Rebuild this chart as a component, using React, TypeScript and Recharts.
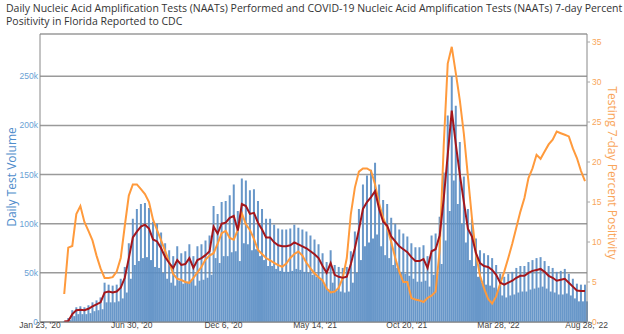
import React from "react";
import { ComposedChart, Bar, Line, XAxis, YAxis, CartesianGrid } from "recharts";

// Week index of the first value in each weekly series (week 0 = Jan 23, '20)
const FIRST_WEEK = 6;

// Daily test volume (thousands): typical weekday level and weekend level per week
const testsWeekday = [
  1, 4, 12, 15, 16, 15, 17, 20, 22, 25, 40, 38, 37, 38, 44, 56, 80, 105, 115, 120,
  121, 116, 102, 100, 91, 80, 73, 67, 77, 70, 72, 79, 67, 77, 79, 83, 88, 118, 110, 122,
  123, 129, 140, 113, 146, 144, 134, 135, 123, 115, 105, 105, 99, 95, 94, 94, 95, 99, 96, 94,
  92, 88, 84, 79, 70, 61, 73, 58, 56, 55, 56, 72, 92, 115, 140, 149, 155, 162, 140, 124,
  120, 106, 100, 94, 90, 87, 80, 76, 76, 78, 67, 88, 90, 107, 152, 210, 250, 220, 183, 148,
  115, 105, 85, 73, 70, 68, 65, 58, 49, 46, 49, 51, 55, 57, 57, 61, 63, 65, 66, 62,
  57, 55, 51, 52, 54, 49, 44, 39, 38, 38,
];
const testsWeekend = [
  0, 2, 6, 8, 8, 8, 9, 11, 12, 13, 20, 20, 20, 21, 24, 30, 44, 58, 62, 65,
  66, 63, 56, 55, 50, 44, 40, 37, 42, 39, 40, 43, 37, 42, 43, 45, 48, 65, 60, 67,
  67, 71, 72, 62, 80, 79, 73, 74, 67, 63, 57, 57, 54, 52, 51, 51, 52, 54, 53, 51,
  50, 48, 46, 43, 38, 33, 40, 32, 31, 30, 31, 40, 50, 63, 77, 81, 85, 89, 77, 68,
  65, 58, 55, 51, 49, 47, 44, 41, 41, 42, 36, 48, 49, 59, 83, 113, 144, 120, 100, 81,
  63, 57, 46, 40, 38, 37, 35, 32, 27, 25, 27, 28, 30, 31, 31, 33, 34, 35, 36, 34,
  31, 30, 28, 28, 29, 27, 24, 21, 21, 21,
];
// 7-day average test volume (thousands)
const avg7Day = [
  0.5, 1, 8, 12, 12.5, 12, 13.5, 16, 18, 20, 30, 31, 30, 31, 35, 45, 65, 86, 92, 97,
  99, 95, 84, 82, 75, 66, 60, 55, 63, 58, 59, 65, 55, 63, 65, 68, 72, 97, 90, 100,
  101, 106, 108, 93, 120, 118, 110, 111, 101, 94, 86, 86, 81, 78, 77, 77, 78, 81, 79, 77,
  75, 72, 69, 65, 57, 50, 60, 48, 46, 45, 46, 59, 75, 94, 115, 122, 127, 133, 115, 102,
  98, 87, 82, 77, 74, 71, 66, 62, 62, 64, 55, 72, 74, 88, 125, 170, 215, 181, 150, 122,
  95, 87, 70, 60, 57, 56, 53, 48, 40, 38, 40, 42, 45, 47, 47, 50, 52, 53, 54, 51,
  47, 45, 42, 43, 44, 40, 36, 32, 31.5, 31.5,
];
// Testing 7-day percent positivity (%)
const positivity = [
  3.5, 9.3, 9.5, 13.5, 14.5, 12.5, 11.4, 10.2, 8.3, 6.7, 5.5, 5.5, 5.6, 6.3, 8.0, 12.0, 15.8, 17.2, 17.2, 16.6,
  16.0, 15.0, 12.8, 11.5, 10.2, 8.9, 7.5, 6.0, 5.4, 5.25, 5.0, 4.9, 5.5, 6.2, 6.9, 7.8, 8.3, 8.6, 9.8, 11.1,
  11.4, 10.5, 10.3, 11.5, 13.6, 12.2, 11.5, 10.4, 9.0, 8.5, 8.0, 7.7, 7.4, 7.1, 6.9, 7.3, 8.0, 8.5, 8.8, 8.3,
  7.4, 6.7, 6.1, 5.6, 5.2, 4.2, 3.7, 3.8, 4.3, 5.5, 8.0, 13.5, 16.8, 18.8, 19.2, 19.2, 18.9, 17.2, 14.8, 13.0,
  11.8, 10.0, 8.0, 6.3, 5.0, 5.0, 3.0, 2.8, 2.7, 2.5, 3.0, 3.3, 3.8, 9.0, 22.0, 32.3, 34.4, 31.1, 27.7, 23.5,
  18.2, 13.0, 8.5, 5.8, 4.2, 2.9, 2.3, 3.2, 4.8, 6.3, 8.0, 9.8, 11.8, 13.8, 15.5, 18.0, 19.2, 20.9, 20.4, 21.3,
  22.2, 22.8, 23.8, 23.6, 23.4, 23.2, 21.7, 20.5, 18.9, 17.6,
];

const xTickDays = [0, 159, 318, 477, 636, 795, 948];
const xTickLabels = ["Jan 23, '20", "Jun 30, '20", "Dec 6, '20", "May 14, '21", "Oct 20, '21", "Mar 28, '22", "Aug 28, '22"];
const leftTicks = [0, 50000, 100000, 150000, 200000, 250000];
const rightTicks = [0, 5, 10, 15, 20, 25, 30, 35];

const data: any[] = [];
testsWeekday.forEach((v, i) => {
  const day = (FIRST_WEEK + i) * 7;
  data.push({ day, tests: v * 1000, avg: avg7Day[i] * 1000, pos: positivity[i] });
  data.push({ day: day + 3.5, tests: testsWeekend[i] * 1000, avg: null, pos: null });
});

const tickFont = "'Liberation Sans Narrow', 'Arial Narrow', 'Liberation Sans', sans-serif";

export default function App() {
  return (
    <div style={{ position: "absolute", left: 0, top: 0, width: 624, height: 334, background: "#fff", fontFamily: "'Open Sans', sans-serif" }}>
      <div style={{ position: "absolute", left: 6, top: 2, fontSize: 10.5, lineHeight: "13px", color: "#333", whiteSpace: "nowrap" }}>
        Daily Nucleic Acid Amplification Tests (NAATs) Performed and COVID-19 Nucleic Acid Amplification Tests (NAATs) 7-day Percent
        <br />
        Positivity in Florida Reported to CDC
      </div>
      <div style={{ position: "absolute", left: 12, top: 177, transform: "translate(-50%, -50%) rotate(-90deg)", fontSize: 12, lineHeight: "14px", color: "#4f8dcb", whiteSpace: "nowrap" }}>
        Daily Test Volume
      </div>
      <div style={{ position: "absolute", left: 612, top: 173, transform: "translate(-50%, -50%) rotate(90deg)", fontSize: 12, lineHeight: "14px", color: "#f9a55a", whiteSpace: "nowrap" }}>
        Testing 7-day Percent Positivity
      </div>
      <ComposedChart width={624} height={334} data={data} margin={{ top: 34, right: 7, bottom: 0, left: 10 }} barCategoryGap={0} barGap={0}>
        <CartesianGrid vertical={false} stroke="#9a9a9a" strokeWidth={1.5} />
        <XAxis
          dataKey="day"
          type="number"
          domain={[0, 948]}
          ticks={xTickDays}
          tickFormatter={(d: number) => xTickLabels[xTickDays.indexOf(d)]}
          height={12}
          tickLine={false}
          tickSize={0}
          tickMargin={0}
          axisLine={{ stroke: "#888" }}
          tick={{ fontSize: 8.5, fill: "#444", fontFamily: tickFont }}
          interval={0}
        />
        <YAxis
          domain={[0, 293000]}
          ticks={leftTicks}
          width={30}
          tickLine={false}
          tickSize={0}
          tickMargin={2}
          axisLine={{ stroke: "#888" }}
          tickFormatter={(v: number) => (v === 0 ? "0" : `${v / 1000}k`)}
          tick={{ fontSize: 8.5, fill: "#6a9fd4", fontFamily: tickFont }}
          allowDataOverflow
        />
        <YAxis
          yAxisId="right"
          orientation="right"
          domain={[0, 36]}
          ticks={rightTicks}
          width={30}
          tickSize={3}
          tickLine={{ stroke: "#aaa" }}
          tickMargin={2}
          axisLine={{ stroke: "#888" }}
          tick={{ fontSize: 8.5, fill: "#f9a65a", fontFamily: tickFont }}
          allowDataOverflow
        />
        <Bar dataKey="tests" fill="#5b8ec4" fillOpacity={0.92} isAnimationActive={false} />
        <Line dataKey="pos" yAxisId="right" stroke="#ff9a3c" strokeWidth={2} dot={false} connectNulls isAnimationActive={false} />
        <Line dataKey="avg" stroke="#a3161c" strokeWidth={2} dot={false} connectNulls isAnimationActive={false} />
      </ComposedChart>
    </div>
  );
}
